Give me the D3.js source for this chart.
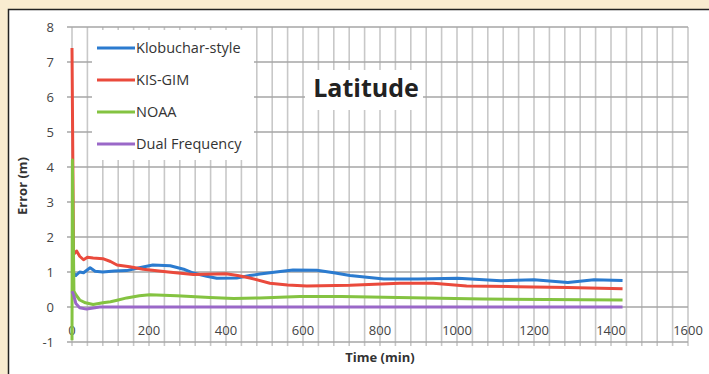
<html><head>
  <script src="https://d3js.org/d3.v7.min.js"></script>
  <style>
    body { margin: 0; background: #f9ecd0; }
    text { font-family: 'Open Sans', 'DejaVu Sans', Arial, sans-serif; }
  </style>
</head>
<body>
  <script>
    // values: [time (min), error (m)]
    const klobuchar = [[3,0.85],[6,0.95],[10,0.9],[20,1.0],[30,0.98],[47,1.12],[60,1.02],[80,1.0],[110,1.03],[142,1.04],[175,1.12],[210,1.2],[255,1.18],[290,1.08],[315,0.97],[350,0.88],[376,0.82],[428,0.83],[462,0.9],[488,0.94],[530,1.0],[574,1.06],[636,1.05],[680,0.98],[722,0.9],[810,0.8],[898,0.8],[1002,0.82],[1114,0.75],[1200,0.78],[1288,0.7],[1356,0.78],[1430,0.76]]
    const kisGim = [[0,7.4],[4,1.5],[12,1.6],[20,1.45],[30,1.35],[40,1.42],[55,1.4],[80,1.38],[100,1.3],[117,1.2],[150,1.15],[185,1.08],[250,1.0],[315,0.93],[400,0.95],[430,0.9],[462,0.83],[514,0.68],[560,0.63],[610,0.6],[722,0.62],[852,0.68],[938,0.68],[1025,0.6],[1155,0.58],[1288,0.56],[1430,0.52]]
    const noaa = [[0,-0.95],[1,4.2],[5,0.45],[10,0.35],[20,0.2],[35,0.12],[55,0.07],[80,0.12],[100,0.15],[120,0.2],[142,0.26],[175,0.32],[202,0.35],[272,0.32],[358,0.27],[420,0.24],[488,0.26],[592,0.3],[700,0.3],[810,0.28],[1068,0.23],[1430,0.2]]
    const dualFreq = [[0,0.45],[4,0.35],[10,0.1],[20,-0.02],[38,-0.06],[72,0],[1430,0]]

    const seriesNames = ["Klobuchar-style", "KIS-GIM", "NOAA", "Dual Frequency"]
    const seriesColors = ["#2b7bcf", "#ea4a3c", "#84c341", "#9a68c8"]
    const xTicks = [0, 200, 400, 600, 800, 1000, 1200, 1400, 1600]
    const yTicks = [-1, 0, 1, 2, 3, 4, 5, 6, 7, 8]

    const svg = d3.select("body").append("svg")
                  .attr("width", 709)
                  .attr("height", 374)

    // white chart box with dark border
    svg.append("rect")
       .attr("x", 8.5).attr("y", 9.5)
       .attr("width", 720).attr("height", 400)
       .attr("fill", "white")
       .attr("stroke", "#222").attr("stroke-width", 1.5)

    const x = d3.scaleLinear().domain([0, 1600]).range([72, 688])
    const y = d3.scaleLinear().domain([-1, 8]).range([342, 27])

    // vertical grid every 40 min
    svg.append("g").selectAll("line").data(d3.range(0, 1601, 40))
       .join("line")
       .attr("x1", d => x(d)).attr("x2", d => x(d))
       .attr("y1", y(8)).attr("y2", y(-1) + 4)
       .attr("stroke", "#c8c8c8").attr("stroke-width", 1.6)

    // horizontal grid
    svg.append("g").selectAll("line").data(yTicks)
       .join("line")
       .attr("x1", x(0) - 5).attr("x2", x(1600))
       .attr("y1", d => y(d)).attr("y2", d => y(d))
       .attr("stroke", "#a6a6a6").attr("stroke-width", 1.6)

    // tick labels
    svg.append("g").selectAll("text").data(yTicks)
       .join("text")
       .attr("x", 54).attr("y", d => y(d) + 5)
       .attr("text-anchor", "end")
       .attr("font-size", 13).attr("fill", "#444")
       .text(d => d)
    svg.append("g").selectAll("text").data(xTicks)
       .join("text")
       .attr("x", d => x(d)).attr("y", 335)
       .attr("text-anchor", "middle")
       .attr("font-size", 13).attr("fill", "#444")
       .text(d => d)

    // axis titles
    svg.append("text")
       .attr("x", 380).attr("y", 362)
       .attr("text-anchor", "middle")
       .attr("font-size", 13).attr("font-weight", "bold").attr("fill", "#333")
       .text("Time (min)")
    svg.append("text")
       .attr("transform", "translate(27,186) rotate(-90)")
       .attr("text-anchor", "middle")
       .attr("font-size", 13).attr("font-weight", "bold").attr("fill", "#333")
       .text("Error (m)")

    // lines
    const line = d3.line().x(d => x(d[0])).y(d => y(d[1]))
    const allSeries = [klobuchar, kisGim, noaa, dualFreq]
    svg.append("g").selectAll("path").data(allSeries)
       .join("path")
       .attr("d", line)
       .attr("fill", "none")
       .attr("stroke", (d, i) => seriesColors[i])
       .attr("stroke-width", 3)
       .attr("stroke-linejoin", "round")

    // legend box
    svg.append("rect")
       .attr("x", 92).attr("y", 30)
       .attr("width", 162).attr("height", 130)
       .attr("fill", "white")
    const legY = [48, 80, 112, 144]
    seriesNames.forEach((name, i) => {
      svg.append("line")
         .attr("x1", 97).attr("x2", 135)
         .attr("y1", legY[i]).attr("y2", legY[i])
         .attr("stroke", seriesColors[i]).attr("stroke-width", 3)
      svg.append("text")
         .attr("x", 136).attr("y", legY[i] + 5)
         .attr("font-size", 14.5).attr("fill", "#333")
         .text(name)
    })

    // title with white background
    svg.append("rect")
       .attr("x", 305).attr("y", 70)
       .attr("width", 118).attr("height", 40)
       .attr("fill", "white")
    svg.append("text")
       .attr("x", 366).attr("y", 97)
       .attr("text-anchor", "middle")
       .attr("font-size", 25).attr("font-weight", "bold").attr("fill", "#222")
       .text("Latitude")
  </script>
</body></html>
